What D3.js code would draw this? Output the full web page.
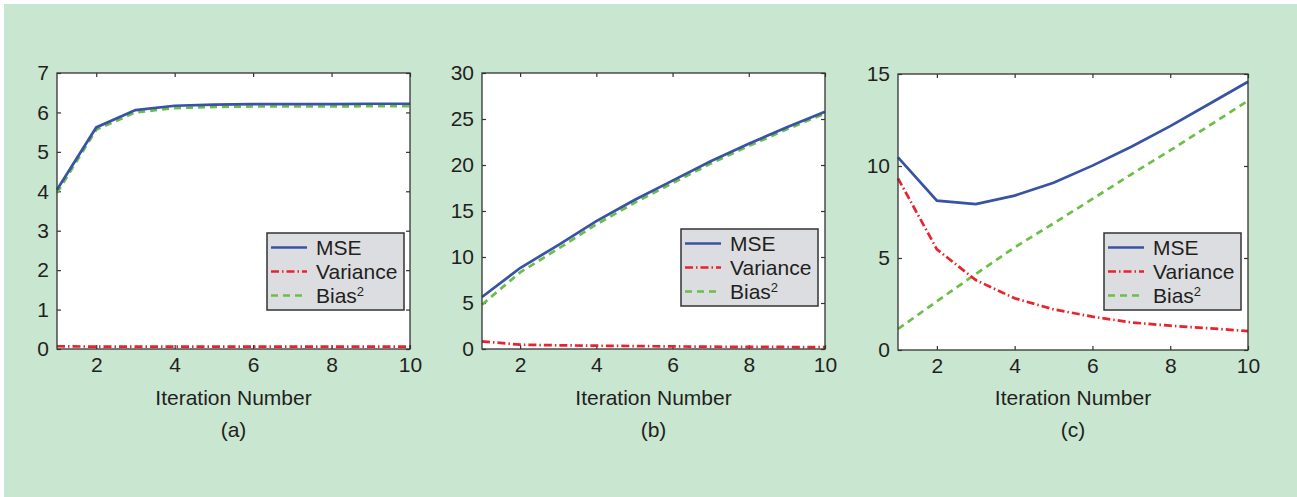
<!DOCTYPE html>
<html>
<head>
<meta charset="utf-8">
<script src="https://cdn.jsdelivr.net/npm/d3@7"></script>
<style>
  body { margin: 0; background: #fff; }
  text { font-family: "Liberation Sans", Arial, sans-serif; fill: #231f20; }
</style>
</head>
<body>
<script>
// Iteration numbers on the x axis
const iterations = [1, 2, 3, 4, 5, 6, 7, 8, 9, 10];
const xTicks = [2, 4, 6, 8, 10];

// Panel (a)
const mseA = [4.04, 5.62, 6.06, 6.17, 6.2, 6.21, 6.21, 6.21, 6.22, 6.22];
const varA = [0.07, 0.06, 0.06, 0.06, 0.06, 0.06, 0.06, 0.06, 0.06, 0.06];
const biasA = [3.96, 5.56, 6.0, 6.11, 6.14, 6.15, 6.15, 6.15, 6.16, 6.16];
const yTicksA = [0, 1, 2, 3, 4, 5, 6, 7];

// Panel (b)
const mseB = [5.65, 8.8, 11.3, 13.9, 16.2, 18.3, 20.4, 22.3, 24.1, 25.8];
const varB = [0.83, 0.47, 0.4, 0.36, 0.32, 0.28, 0.25, 0.23, 0.22, 0.2];
const biasB = [4.82, 8.33, 10.9, 13.54, 15.88, 18.02, 20.15, 22.07, 23.88, 25.6];
const yTicksB = [0, 5, 10, 15, 20, 25, 30];

// Panel (c)
const mseC = [10.47, 8.12, 7.93, 8.39, 9.09, 10.02, 11.05, 12.17, 13.37, 14.58];
const varC = [9.33, 5.47, 3.8, 2.81, 2.21, 1.81, 1.5, 1.32, 1.18, 1.03];
const biasC = [1.14, 2.65, 4.13, 5.58, 6.88, 8.21, 9.55, 10.85, 12.19, 13.55];
const yTicksC = [0, 5, 10, 15];

const panelLabels = ["(a)", "(b)", "(c)"];
const xLabel = "Iteration Number";

// line styles for the three series
const styles = [
  { name: "MSE", color: "#3853a4", dash: null },
  { name: "Variance", color: "#e8232b", dash: "8,3,1.5,3" },
  { name: "Bias", color: "#6cbf46", dash: "7,5" }
];

const W = 1297, H = 497;
const fontSize = "21px";

const svg = d3.select("body").append("svg")
  .attr("width", W)
  .attr("height", H);

// green page background
svg.append("rect")
  .attr("x", 4).attr("y", 4)
  .attr("width", W - 4).attr("height", H - 4)
  .attr("fill", "#c9e6d1");

// plot boxes and legend boxes, in pixels
const panels = [
  { box: [57, 73, 410, 349], yMax: 7, yTicks: yTicksA, series: [mseA, varA, biasA], legend: [267, 233] },
  { box: [482, 73, 825, 349], yMax: 30, yTicks: yTicksB, series: [mseB, varB, biasB], legend: [681, 229] },
  { box: [898, 74, 1248, 350], yMax: 15, yTicks: yTicksC, series: [mseC, varC, biasC], legend: [1104, 233] }
];

panels.forEach(function(p, k) {
  const [x0, y0, x1, y1] = p.box;

  const xScale = d3.scaleLinear().domain([1, 10]).range([x0, x1]);
  const yScale = d3.scaleLinear().domain([0, p.yMax]).range([y1, y0]);

  const g = svg.append("g");

  // white plot area
  g.append("rect")
    .attr("x", x0).attr("y", y0)
    .attr("width", x1 - x0).attr("height", y1 - y0)
    .attr("fill", "#fff");

  // axes with inward ticks on all four sides
  const tickLen = 4;
  const axes = [
    { ax: d3.axisBottom(xScale).tickValues(xTicks), t: `translate(0,${y1})`, label: true },
    { ax: d3.axisTop(xScale).tickValues(xTicks), t: `translate(0,${y0})`, label: false },
    { ax: d3.axisLeft(yScale).tickValues(p.yTicks), t: `translate(${x0},0)`, label: true },
    { ax: d3.axisRight(yScale).tickValues(p.yTicks), t: `translate(${x1},0)`, label: false }
  ];
  axes.forEach(function(a) {
    a.ax.tickSize(-tickLen).tickPadding(a.label ? 8 : 0)
      .tickFormat(a.label ? d3.format("d") : "");
    const ag = g.append("g").attr("transform", a.t).call(a.ax);
    ag.select(".domain").remove();
    ag.selectAll("line").attr("stroke", "#333").attr("stroke-width", 1.2);
    ag.selectAll("text")
      .style("font-size", fontSize)
      .attr("fill", "#231f20")
      .style("font-family", "'Liberation Sans', Arial, sans-serif");
  });

  // series lines
  const line = d3.line()
    .x(function(d, i) { return xScale(iterations[i]); })
    .y(function(d) { return yScale(d); });

  // draw bias, variance, then MSE so MSE sits on top
  [2, 1, 0].forEach(function(s) {
    g.append("path")
      .datum(p.series[s])
      .attr("d", line)
      .attr("fill", "none")
      .attr("stroke", styles[s].color)
      .attr("stroke-width", 2.7)
      .attr("stroke-dasharray", styles[s].dash);
  });

  // box outline
  g.append("rect")
    .attr("x", x0).attr("y", y0)
    .attr("width", x1 - x0).attr("height", y1 - y0)
    .attr("fill", "none")
    .attr("stroke", "#333")
    .attr("stroke-width", 1.3);

  // legend
  const [lx, ly] = p.legend;
  const lg = g.append("g").attr("transform", `translate(${lx},${ly})`);
  lg.append("rect")
    .attr("width", 137).attr("height", 77)
    .attr("fill", "#dcdde0")
    .attr("stroke", "#333")
    .attr("stroke-width", 1.5);

  styles.forEach(function(st, i) {
    const cy = 14.5 + i * 24;
    lg.append("line")
      .attr("x1", 4).attr("x2", 40)
      .attr("y1", cy).attr("y2", cy)
      .attr("stroke", st.color)
      .attr("stroke-width", 2.7)
      .attr("stroke-dasharray", st.dash);
    const t = lg.append("text")
      .attr("x", 49).attr("y", cy + 7.5)
      .style("font-size", fontSize);
    t.append("tspan").text(st.name);
    if (st.name === "Bias") {
      t.append("tspan")
        .attr("dy", -7)
        .style("font-size", "13px")
        .text("2");
    }
  });

  // axis title and panel label
  const cx = (x0 + x1) / 2;
  g.append("text")
    .attr("x", cx).attr("y", 405)
    .attr("text-anchor", "middle")
    .style("font-size", fontSize)
    .text(xLabel);

  g.append("text")
    .attr("x", cx).attr("y", 437)
    .attr("text-anchor", "middle")
    .style("font-size", fontSize)
    .text(panelLabels[k]);
});
</script>
</body>
</html>
